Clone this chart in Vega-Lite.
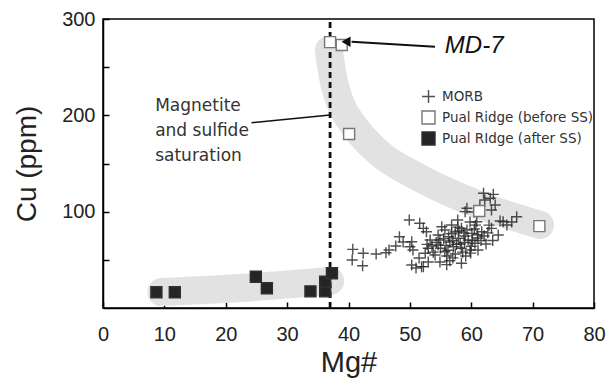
{
  "$schema": "https://vega.github.io/schema/vega-lite/v6.json",
  "width": 491,
  "height": 289,
  "autosize": {"type": "none"},
  "padding": {"left": 103, "top": 19, "right": 15, "bottom": 74},
  "background": "white",
  "config": {
    "view": {"stroke": "black", "strokeWidth": 1.5},
    "axis": {"grid": false, "domainColor": "black", "domainWidth": 1.5, "tickColor": "black", "tickWidth": 1.5, "tickSize": -6, "labelFont": "Liberation Sans", "labelFontSize": 20, "labelColor": "#222", "titleFont": "Liberation Sans", "titleFontWeight": "normal", "titleColor": "#222", "labelFlush": false}
  },
  "encoding": {
    "x": {"field": "mg", "type": "quantitative", "scale": {"domain": [0, 80], "nice": false, "zero": false},
      "axis": {"title": "Mg#", "values": [0, 10, 20, 30, 40, 50, 60, 70, 80], "labelPadding": 22, "titleFontSize": 29, "titlePadding": 4}},
    "y": {"field": "cu", "type": "quantitative", "scale": {"domain": [0, 300], "nice": false, "zero": false},
      "axis": {"title": "Cu (ppm)", "values": [50, 100, 150, 200, 250, 300], "labelExpr": "datum.value % 100 === 0 ? datum.label : ''", "labelPadding": 14, "titleFontSize": 28, "titlePadding": 20}}
  },
  "layer": [
    {
      "data": {"values": [
        {"band": "low", "ord": 1, "mg": 9.5, "cu": 16.5},
        {"band": "low", "ord": 2, "mg": 23, "cu": 21},
        {"band": "low", "ord": 3, "mg": 37, "cu": 28},
        {"band": "up", "ord": 1, "mg": 36.8, "cu": 267.8},
        {"band": "up", "ord": 2, "mg": 37.4, "cu": 241.9},
        {"band": "up", "ord": 3, "mg": 38.5, "cu": 215.9},
        {"band": "up", "ord": 4, "mg": 40.8, "cu": 190},
        {"band": "up", "ord": 5, "mg": 44.8, "cu": 161.9},
        {"band": "up", "ord": 6, "mg": 51.3, "cu": 136},
        {"band": "up", "ord": 7, "mg": 60.9, "cu": 108},
        {"band": "up", "ord": 8, "mg": 71.2, "cu": 86.2}
      ]},
      "mark": {"type": "line", "color": "#e2e2e2", "strokeWidth": 28, "strokeCap": "round", "strokeJoin": "round", "interpolate": "monotone"},
      "encoding": {"detail": {"field": "band"}, "order": {"field": "ord", "type": "quantitative"}}
    },
    {
      "data": {"values": [{"mg": 37, "cu": 0, "cu2": 297}]},
      "mark": {"type": "rule", "color": "#111", "strokeWidth": 2.8, "strokeDash": [6, 4]},
      "encoding": {"y2": {"field": "cu2"}}
    },
    {
      "data": {"values": [{"mg": 24.2, "cu": 192.4, "mg2": 37, "cu2": 200.4}]},
      "mark": {"type": "rule", "color": "#111", "strokeWidth": 1.5},
      "encoding": {"x2": {"field": "mg2"}, "y2": {"field": "cu2"}}
    },
    {
      "data": {"values": [{"mg": 8.5, "cu": 204.8, "label": ["Magnetite", "and sulfide", "saturation"]}]},
      "mark": {"type": "text", "align": "left", "baseline": "alphabetic", "font": "DejaVu Sans", "fontSize": 17, "lineHeight": 25, "color": "#333"},
      "encoding": {"text": {"field": "label"}}
    },
    {
      "data": {"values": [
        {"series": "MORB", "mg": 40.7, "cu": 60.9},
        {"series": "MORB", "mg": 40.6, "cu": 49.8},
        {"series": "MORB", "mg": 42.4, "cu": 56.8},
        {"series": "MORB", "mg": 42.3, "cu": 43.9},
        {"series": "MORB", "mg": 44.5, "cu": 56.1},
        {"series": "MORB", "mg": 46.1, "cu": 57.4},
        {"series": "MORB", "mg": 46.6, "cu": 60.2},
        {"series": "MORB", "mg": 48.3, "cu": 74.0},
        {"series": "MORB", "mg": 49.9, "cu": 91.4},
        {"series": "MORB", "mg": 51.6, "cu": 87.9},
        {"series": "MORB", "mg": 50.3, "cu": 68.8},
        {"series": "MORB", "mg": 52.7, "cu": 79.2},
        {"series": "MORB", "mg": 52.2, "cu": 42.9},
        {"series": "MORB", "mg": 50.3, "cu": 44.6},
        {"series": "MORB", "mg": 51.0, "cu": 41.5},
        {"series": "MORB", "mg": 50.0, "cu": 63.6},
        {"series": "MORB", "mg": 52.2, "cu": 82.7},
        {"series": "MORB", "mg": 55.2, "cu": 84.4},
        {"series": "MORB", "mg": 56.8, "cu": 86.2},
        {"series": "MORB", "mg": 58.4, "cu": 82.7},
        {"series": "MORB", "mg": 60.1, "cu": 77.5},
        {"series": "MORB", "mg": 61.7, "cu": 79.2},
        {"series": "MORB", "mg": 63.3, "cu": 82.7},
        {"series": "MORB", "mg": 54.6, "cu": 75.8},
        {"series": "MORB", "mg": 56.3, "cu": 74.0},
        {"series": "MORB", "mg": 57.9, "cu": 72.4},
        {"series": "MORB", "mg": 59.5, "cu": 70.6},
        {"series": "MORB", "mg": 60.6, "cu": 67.2},
        {"series": "MORB", "mg": 53.3, "cu": 70.6},
        {"series": "MORB", "mg": 53.0, "cu": 62.0},
        {"series": "MORB", "mg": 54.6, "cu": 65.4},
        {"series": "MORB", "mg": 55.7, "cu": 58.4},
        {"series": "MORB", "mg": 57.1, "cu": 63.6},
        {"series": "MORB", "mg": 58.4, "cu": 62.0},
        {"series": "MORB", "mg": 59.8, "cu": 60.2},
        {"series": "MORB", "mg": 54.1, "cu": 55.0},
        {"series": "MORB", "mg": 52.5, "cu": 56.8},
        {"series": "MORB", "mg": 51.9, "cu": 42.9},
        {"series": "MORB", "mg": 58.4, "cu": 46.4},
        {"series": "MORB", "mg": 62.0, "cu": 119.1},
        {"series": "MORB", "mg": 63.1, "cu": 113.9},
        {"series": "MORB", "mg": 62.2, "cu": 112.1},
        {"series": "MORB", "mg": 63.6, "cu": 118.0},
        {"series": "MORB", "mg": 59.3, "cu": 103.5},
        {"series": "MORB", "mg": 59.0, "cu": 100.0},
        {"series": "MORB", "mg": 63.3, "cu": 101.7},
        {"series": "MORB", "mg": 65.2, "cu": 89.6},
        {"series": "MORB", "mg": 65.8, "cu": 86.2},
        {"series": "MORB", "mg": 67.4, "cu": 94.8},
        {"series": "MORB", "mg": 60.9, "cu": 89.6},
        {"series": "MORB", "mg": 55.7, "cu": 81.0},
        {"series": "MORB", "mg": 57.4, "cu": 78.9},
        {"series": "MORB", "mg": 59.0, "cu": 74.7},
        {"series": "MORB", "mg": 56.5, "cu": 68.5},
        {"series": "MORB", "mg": 58.2, "cu": 66.4},
        {"series": "MORB", "mg": 54.9, "cu": 70.6},
        {"series": "MORB", "mg": 53.6, "cu": 64.4},
        {"series": "MORB", "mg": 56.0, "cu": 54.0},
        {"series": "MORB", "mg": 57.4, "cu": 56.1},
        {"series": "MORB", "mg": 61.1, "cu": 72.7},
        {"series": "MORB", "mg": 62.1, "cu": 74.7},
        {"series": "MORB", "mg": 62.4, "cu": 66.4},
        {"series": "MORB", "mg": 61.1, "cu": 60.2},
        {"series": "MORB", "mg": 59.1, "cu": 54.0},
        {"series": "MORB", "mg": 54.9, "cu": 47.8},
        {"series": "MORB", "mg": 53.0, "cu": 47.8},
        {"series": "MORB", "mg": 51.5, "cu": 51.9},
        {"series": "MORB", "mg": 50.5, "cu": 60.2},
        {"series": "MORB", "mg": 48.9, "cu": 68.5},
        {"series": "MORB", "mg": 47.7, "cu": 64.4},
        {"series": "MORB", "mg": 59.8, "cu": 89.3},
        {"series": "MORB", "mg": 57.8, "cu": 91.4},
        {"series": "MORB", "mg": 64.4, "cu": 75.8},
        {"series": "MORB", "mg": 64.7, "cu": 90.3},
        {"series": "MORB", "mg": 66.6, "cu": 89.3},
        {"series": "MORB", "mg": 63.9, "cu": 106.9},
        {"series": "MORB", "mg": 61.4, "cu": 105.9},
        {"series": "MORB", "mg": 60.4, "cu": 99.7},
        {"series": "MORB", "mg": 56.0, "cu": 45.0},
        {"series": "MORB", "mg": 57.0, "cu": 70.0},
        {"series": "MORB", "mg": 58.8, "cu": 78.0},
        {"series": "MORB", "mg": 60.0, "cu": 64.0},
        {"series": "MORB", "mg": 53.8, "cu": 58.0},
        {"series": "MORB", "mg": 55.0, "cu": 62.0},
        {"series": "MORB", "mg": 56.2, "cu": 60.0},
        {"series": "MORB", "mg": 57.6, "cu": 66.0},
        {"series": "MORB", "mg": 58.9, "cu": 68.0},
        {"series": "MORB", "mg": 60.2, "cu": 70.0},
        {"series": "MORB", "mg": 61.6, "cu": 70.0},
        {"series": "MORB", "mg": 55.5, "cu": 72.0},
        {"series": "MORB", "mg": 56.8, "cu": 77.0},
        {"series": "MORB", "mg": 58.0, "cu": 80.0},
        {"series": "MORB", "mg": 59.3, "cu": 81.0},
        {"series": "MORB", "mg": 60.5, "cu": 82.0},
        {"series": "MORB", "mg": 57.0, "cu": 52.0},
        {"series": "MORB", "mg": 58.6, "cu": 58.0},
        {"series": "MORB", "mg": 59.9, "cu": 57.0},
        {"series": "MORB", "mg": 54.3, "cu": 68.0},
        {"series": "MORB", "mg": 55.9, "cu": 65.0},
        {"series": "MORB", "mg": 62.7, "cu": 78.0},
        {"series": "MORB", "mg": 63.5, "cu": 70.0},
        {"series": "MORB", "mg": 61.0, "cu": 76.0},
        {"series": "MORB", "mg": 52.8, "cu": 66.0},
        {"series": "MORB", "mg": 57.8, "cu": 84.0},
        {"series": "MORB", "mg": 56.5, "cu": 49.0},
        {"series": "MORB", "mg": 60.7, "cu": 86.0},
        {"series": "MORB", "mg": 62.9, "cu": 86.0},
        {"series": "Pual Ridge (before SS)", "mg": 37.0, "cu": 276},
        {"series": "Pual Ridge (before SS)", "mg": 38.9, "cu": 273},
        {"series": "Pual Ridge (before SS)", "mg": 40.1, "cu": 180.7},
        {"series": "Pual Ridge (before SS)", "mg": 61.3, "cu": 100.7},
        {"series": "Pual Ridge (before SS)", "mg": 71.1, "cu": 85},
        {"series": "Pual RIdge (after SS)", "mg": 8.7, "cu": 16.3},
        {"series": "Pual RIdge (after SS)", "mg": 11.7, "cu": 16.3},
        {"series": "Pual RIdge (after SS)", "mg": 24.9, "cu": 32.5},
        {"series": "Pual RIdge (after SS)", "mg": 26.7, "cu": 20.5},
        {"series": "Pual RIdge (after SS)", "mg": 33.8, "cu": 17.3},
        {"series": "Pual RIdge (after SS)", "mg": 36.2, "cu": 17.3},
        {"series": "Pual RIdge (after SS)", "mg": 36.2, "cu": 27.3},
        {"series": "Pual RIdge (after SS)", "mg": 37.3, "cu": 36}
      ]},
      "mark": {"type": "point", "size": 121, "strokeWidth": 1.4, "opacity": 1},
      "encoding": {
        "shape": {"field": "series", "type": "nominal",
          "scale": {"domain": ["MORB", "Pual Ridge (before SS)", "Pual RIdge (after SS)"], "range": ["M-1,0L1,0M0,-1L0,1", "square", "square"]},
          "legend": {"title": null, "orient": "none", "legendX": 318, "legendY": 70, "labelFont": "DejaVu Sans", "labelFontSize": 13.5, "labelColor": "#333", "symbolSize": 169, "rowPadding": 2, "labelOffset": 6, "symbolStrokeWidth": 1.4}},
        "fill": {"field": "series", "type": "nominal",
          "scale": {"domain": ["MORB", "Pual Ridge (before SS)", "Pual RIdge (after SS)"], "range": ["transparent", "white", "#252525"]},
          "legend": {"title": null, "orient": "none", "legendX": 318, "legendY": 70, "labelFont": "DejaVu Sans", "labelFontSize": 13.5, "labelColor": "#333", "symbolSize": 169, "rowPadding": 2, "labelOffset": 6, "symbolStrokeWidth": 1.4}},
        "stroke": {"field": "series", "type": "nominal",
          "scale": {"domain": ["MORB", "Pual Ridge (before SS)", "Pual RIdge (after SS)"], "range": ["rgba(35,35,35,0.8)", "#777777", "#303030"]},
          "legend": {"title": null, "orient": "none", "legendX": 318, "legendY": 70, "labelFont": "DejaVu Sans", "labelFontSize": 13.5, "labelColor": "#333", "symbolSize": 169, "rowPadding": 2, "labelOffset": 6, "symbolStrokeWidth": 1.4}}
      }
    },
    {
      "data": {"values": [{"mg": 54.1, "cu": 271.3, "mg2": 40.5, "cu2": 276.3}]},
      "mark": {"type": "rule", "color": "#111", "strokeWidth": 2},
      "encoding": {"x2": {"field": "mg2"}, "y2": {"field": "cu2"}}
    },
    {
      "data": {"values": [{"mg": 39.6, "cu": 276.5}]},
      "mark": {"type": "point", "shape": "triangle-left", "filled": true, "color": "#111", "size": 110, "opacity": 1}
    },
    {
      "data": {"values": [{"mg": 55.7, "cu": 272, "label": "MD-7"}]},
      "mark": {"type": "text", "align": "left", "baseline": "middle", "font": "Liberation Sans", "fontStyle": "italic", "fontSize": 24, "color": "#111"},
      "encoding": {"text": {"field": "label"}}
    }
  ]
}
